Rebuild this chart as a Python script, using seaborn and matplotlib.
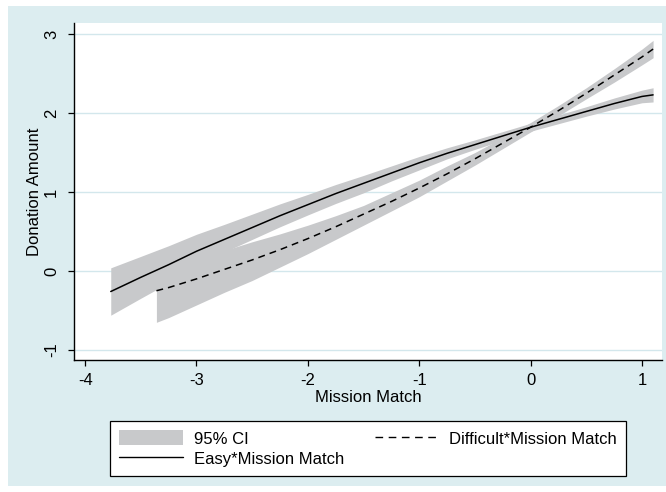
import matplotlib
matplotlib.use("Agg")
import matplotlib.pyplot as plt
import seaborn as sns
import pandas as pd
from matplotlib.patches import Rectangle, Patch
from matplotlib.lines import Line2D

# Values
easy_x = [-3.77, -3.5, -3.25, -3.0, -2.75, -2.5, -2.25, -2.0, -1.75, -1.5, -1.25,
          -1.0, -0.75, -0.5, -0.25, 0.0, 0.25, 0.5, 0.75, 1.0, 1.1]
easy_y = [-0.26, -0.08, 0.08, 0.25, 0.40, 0.55, 0.70, 0.84, 0.98, 1.11, 1.24,
          1.37, 1.49, 1.60, 1.71, 1.82, 1.92, 2.02, 2.12, 2.21, 2.23]
easy_lo = [-0.56, -0.345, -0.15, 0.06, 0.24, 0.40, 0.56, 0.71, 0.855, 0.99, 1.14,
           1.28, 1.42, 1.54, 1.655, 1.77, 1.865, 1.96, 2.05, 2.13, 2.14]
easy_hi = [0.04, 0.185, 0.32, 0.465, 0.59, 0.72, 0.85, 0.97, 1.095, 1.21, 1.33,
           1.45, 1.56, 1.66, 1.765, 1.87, 1.975, 2.08, 2.19, 2.29, 2.32]

diff_x = [-3.36, -3.25, -3.0, -2.75, -2.5, -2.25, -2.0, -1.75, -1.5, -1.25,
          -1.0, -0.75, -0.5, -0.25, 0.0, 0.25, 0.5, 0.75, 1.0, 1.1]
diff_y = [-0.25, -0.21, -0.10, 0.02, 0.14, 0.27, 0.41, 0.56, 0.72, 0.88,
          1.05, 1.23, 1.42, 1.62, 1.82, 2.03, 2.25, 2.48, 2.71, 2.81]
diff_lo = [-0.65, -0.59, -0.43, -0.27, -0.12, 0.05, 0.22, 0.40, 0.58, 0.76,
           0.94, 1.14, 1.34, 1.55, 1.76, 1.965, 2.18, 2.39, 2.61, 2.70]
diff_hi = [0.10, 0.12, 0.17, 0.26, 0.37, 0.47, 0.58, 0.70, 0.83, 0.99,
           1.15, 1.33, 1.50, 1.69, 1.88, 2.095, 2.32, 2.56, 2.81, 2.92]

x_ticks = [-4, -3, -2, -1, 0, 1]
y_ticks = [-1, 0, 1, 2, 3]

easy = pd.DataFrame({"x": easy_x, "y": easy_y, "lo": easy_lo, "hi": easy_hi})
diff = pd.DataFrame({"x": diff_x, "y": diff_y, "lo": diff_lo, "hi": diff_hi})

sns.set_theme(style="white")
plt.rcParams["font.family"] = ["Liberation Sans", "DejaVu Sans"]
plt.rcParams["text.color"] = "black"
plt.rcParams["axes.labelcolor"] = "black"
plt.rcParams["xtick.color"] = "black"
plt.rcParams["ytick.color"] = "black"

W, H = 666, 492
fs = 12
fig = plt.figure(figsize=(W / 100, H / 100), dpi=100, facecolor="white")
bg = "#dcedf0"
fig.patches.append(Rectangle((8 / W, 1 - 486 / H), 1 - 8 / W, (486 - 6) / H,
                             transform=fig.transFigure, facecolor=bg,
                             edgecolor="none", zorder=-5))

ax = fig.add_axes([74 / W, 1 - 360 / H, (662 - 74) / W, (360 - 23) / H])
ax.set_zorder(2)
ax.set_facecolor("white")

band = "#c8c9cb"
ax.fill_between(easy["x"], easy["lo"], easy["hi"], color=band, lw=0, zorder=2)
ax.fill_between(diff["x"], diff["lo"], diff["hi"], color=band, lw=0, zorder=2)

sns.lineplot(data=easy, x="x", y="y", ax=ax, color="black", lw=1.1, zorder=3)
sns.lineplot(data=diff, x="x", y="y", ax=ax, color="black", lw=1.1, zorder=3)
ax.lines[-1].set_dashes([4.5, 3.3])

ax.set_xlim(-4.1, 1.18)
ax.set_ylim(-1.127, 3.14)
ax.set_xticks(x_ticks)
ax.set_yticks(y_ticks)
ax.set_xticklabels([str(t) for t in x_ticks], fontsize=fs)
ax.set_yticklabels([str(t) for t in y_ticks], fontsize=fs, rotation=90, va="center")
ax.grid(axis="y", color="#d3e7ec", lw=1.0, zorder=1)
ax.set_axisbelow(True)
ax.tick_params(axis="both", direction="out", length=4.3, width=0.9,
               color="black", bottom=True, left=True)
ax.tick_params(axis="x", pad=5)
ax.tick_params(axis="y", pad=6.5)
for s in ["top", "right"]:
    ax.spines[s].set_visible(False)
for s in ["left", "bottom"]:
    ax.spines[s].set_color("black")
    ax.spines[s].set_linewidth(1.0)

ax.set_xlabel("Mission Match", fontsize=fs, labelpad=1.5)
ax.set_ylabel("Donation Amount", fontsize=fs, labelpad=1.5)

handles = [Patch(facecolor=band, edgecolor="none"),
           Line2D([], [], color="black", lw=1.0),
           Line2D([], [], color="black", lw=1.0, dashes=[5.5, 4])]
labels = ["95% CI", "Easy*Mission Match", "Difficult*Mission Match"]
leg = fig.legend(handles, labels, ncol=2, mode="expand", loc="lower left",
                 bbox_to_anchor=(110 / W, 1 - 476 / H, 516 / W, 58 / H),
                 borderaxespad=0, fontsize=fs, frameon=True, fancybox=False,
                 framealpha=1, handlelength=3.8, handleheight=1.0,
                 handletextpad=0.66, labelspacing=0.25, borderpad=0.55)
leg.get_frame().set_edgecolor("black")
leg.get_frame().set_linewidth(0.9)
leg.get_frame().set_facecolor("white")

fig.savefig("out.png", dpi=100, facecolor="white")
